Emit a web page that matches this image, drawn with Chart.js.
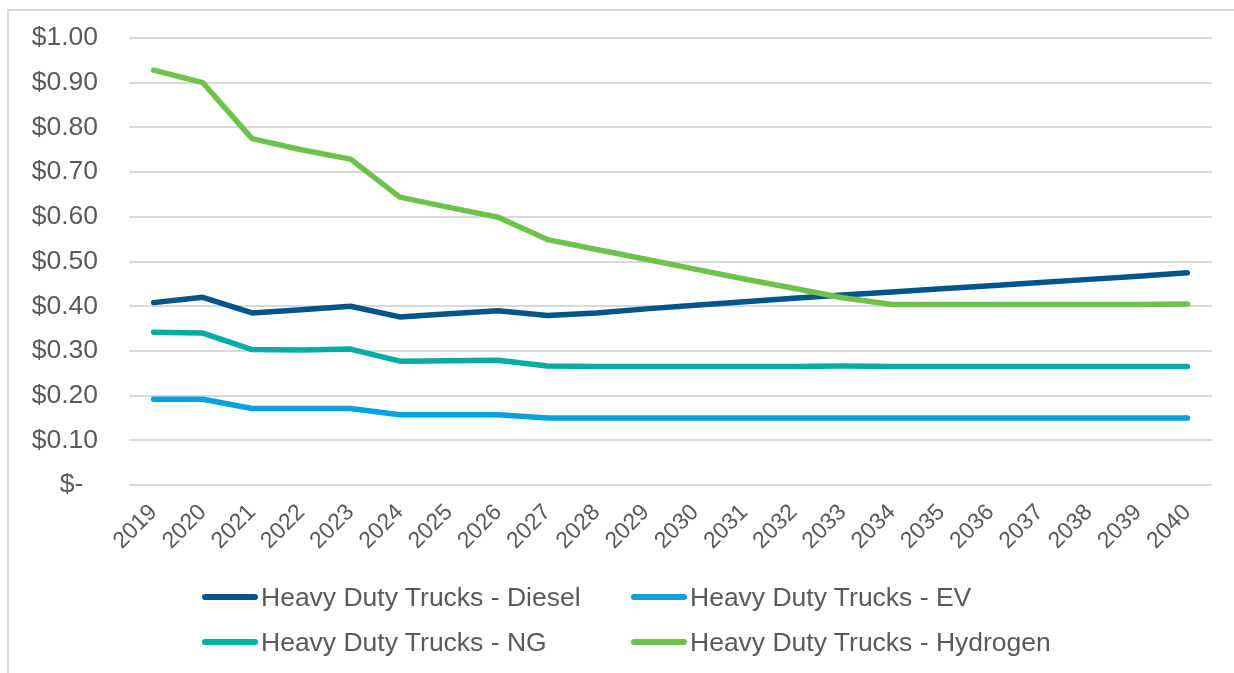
<!DOCTYPE html>
<html lang="en">
<head>
  <meta charset="UTF-8" />
  <title>Heavy Duty Trucks cost per mile</title>
  <script src="https://cdn.jsdelivr.net/npm/chart.js"></script>
  <style>
    body {
      margin: 0;
      background: #fff;
      font-family: "Liberation Sans", Arial, sans-serif;
      overflow: hidden;
    }
    .frame {
      position: absolute;
      left: 7px;
      top: 9px;
      width: 1300px;
      height: 700px;
      border: 2px solid #d9d9d9;
      pointer-events: none;
    }
    .wrap {
      position: absolute;
      left: 0;
      top: 0;
      width: 1234px;
      height: 673px;
    }
    .legend-item {
      position: absolute;
      display: flex;
      align-items: center;
      font-size: 26.5px;
      color: #595959;
      white-space: nowrap;
    }
    .legend-item .swatch {
      width: 56px;
      height: 6px;
      border-radius: 3px;
      margin-right: 3px;
    }
  </style>
</head>
<body>
  <div class="frame"></div>
  <div class="wrap"><canvas id="chart" width="1234" height="673"></canvas></div>
  <div id="legend"></div>

  <script>
    const years = ['2019', '2020', '2021', '2022', '2023', '2024', '2025', '2026', '2027', '2028', '2029',
                   '2030', '2031', '2032', '2033', '2034', '2035', '2036', '2037', '2038', '2039', '2040'];

    const diesel = [0.408, 0.420, 0.385, 0.392, 0.400, 0.376, 0.383, 0.390, 0.379, 0.385, 0.394,
                    0.402, 0.410, 0.418, 0.425, 0.432, 0.439, 0.446, 0.453, 0.460, 0.467, 0.475];
    const ev = [0.192, 0.192, 0.171, 0.171, 0.171, 0.157, 0.157, 0.157, 0.150, 0.150, 0.150,
                0.150, 0.150, 0.150, 0.150, 0.150, 0.150, 0.150, 0.150, 0.150, 0.150, 0.150];
    const ng = [0.342, 0.340, 0.303, 0.302, 0.304, 0.277, 0.278, 0.279, 0.266, 0.265, 0.265,
                0.265, 0.265, 0.265, 0.266, 0.265, 0.265, 0.265, 0.265, 0.265, 0.265, 0.265];
    const hydrogen = [0.928, 0.900, 0.775, 0.750, 0.729, 0.644, 0.621, 0.599, 0.549, 0.527, 0.505,
                      0.483, 0.461, 0.440, 0.419, 0.404, 0.404, 0.404, 0.404, 0.404, 0.404, 0.405];

    const seriesNames = ['Heavy Duty Trucks - Diesel', 'Heavy Duty Trucks - EV',
                         'Heavy Duty Trucks - NG', 'Heavy Duty Trucks - Hydrogen'];
    const seriesColors = ['#00558c', '#00a3e0', '#00ada5', '#6cc24a'];
    const seriesData = [diesel, ev, ng, hydrogen];

    const font = '"Liberation Sans", Arial, sans-serif';
    const padLeft = 0;

    const datasets = seriesData.map((d, i) => ({
      label: seriesNames[i],
      data: d,
      borderColor: seriesColors[i],
      backgroundColor: seriesColors[i],
      borderWidth: 5.5,
      pointRadius: 0,
      tension: 0,
      borderCapStyle: 'round',
      borderJoinStyle: 'round',
      order: i === 3 ? 0 : 1
    }));

    new Chart(document.getElementById('chart'), {
      type: 'line',
      data: { labels: years, datasets },
      options: {
        responsive: false,
        animation: false,
        layout: { padding: { left: padLeft, top: 38, right: 22, bottom: 0 } },
        plugins: {
          legend: { display: false },
          tooltip: { enabled: false }
        },
        scales: {
          x: {
            offset: true,
            grid: { display: false, drawTicks: false },
            border: { display: false },
            ticks: {
              autoSkip: false,
              minRotation: 45,
              maxRotation: 45,
              padding: 14,
              color: '#595959',
              font: { family: font, size: 23 }
            },
            afterFit: s => { s.height = 673 - 485; }
          },
          y: {
            min: 0,
            max: 1,
            grid: { color: '#d9d9d9', lineWidth: 2, drawTicks: false },
            border: { display: false },
            ticks: {
              stepSize: 0.1,
              padding: 31,
              color: '#595959',
              font: { family: font, size: 26.5 },
              callback: v => v === 0 ? '$-  ' : '$' + v.toFixed(2)
            },
            afterFit: s => {
              s.width = 129 - padLeft;
              s.paddingTop = 0;
              s.paddingBottom = 0;
            }
          }
        }
      }
    });

    // legend laid out as a 2x2 grid, like the original
    const legendEl = document.getElementById('legend');
    const cols = [202, 631];
    const rows = [597, 642];
    seriesNames.forEach((name, i) => {
      const item = document.createElement('div');
      item.className = 'legend-item';
      item.style.left = cols[i % 2] + 'px';
      item.style.top = (rows[Math.floor(i / 2)] - 15) + 'px';
      item.style.height = '30px';
      item.innerHTML = '<span class="swatch" style="background:' + seriesColors[i] + '"></span>' + name;
      legendEl.appendChild(item);
    });
  </script>
</body>
</html>
